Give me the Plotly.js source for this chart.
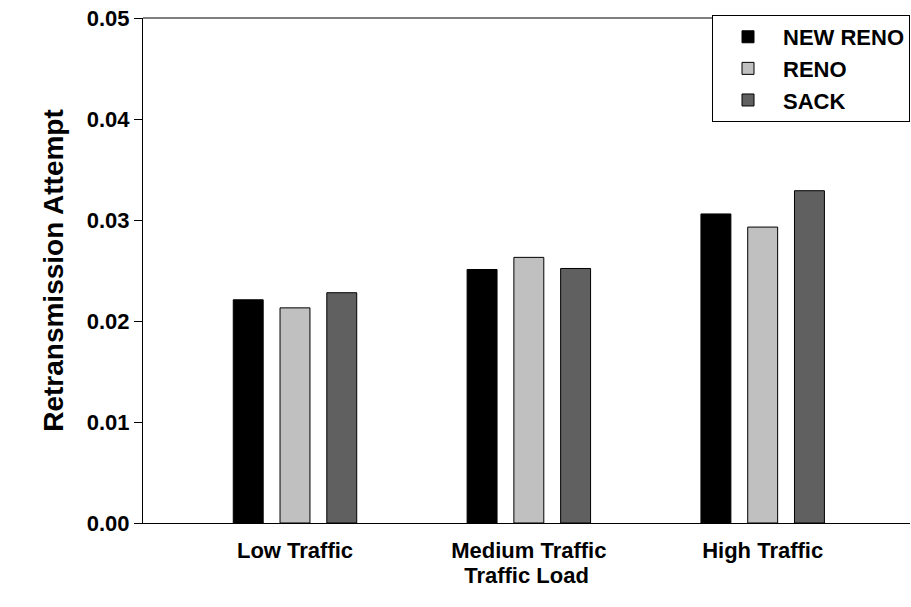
<html><head><script src="https://cdn.plot.ly/plotly-3.0.1.min.js"></script></head><body style="margin:0">
<div id="c" style="width:911px;height:607px"></div>
<script>
const categories=["Low Traffic","Medium Traffic","High Traffic"];
const newReno=[0.0221,0.0251,0.0306];
const reno=[0.0213,0.0263,0.0293];
const sack=[0.0228,0.0252,0.0329];
const idx=[0,1,2];
const f={family:"Liberation Sans, Arial",size:22,color:"black",weight:"bold"};
const mk=(n,y,c)=>({type:"bar",name:"<b>"+n+"</b>",x:idx,y:y,marker:{color:c,line:{color:"black",width:1}}});
Plotly.newPlot("c",[mk("NEW RENO",newReno,"#000000"),mk("RENO",reno,"#c0c0c0"),mk("SACK",sack,"#606060")],{
width:911,height:607,margin:{l:143,r:1,t:18,b:84},barmode:"group",bargap:0.4,bargroupgap:0.36,
paper_bgcolor:"white",plot_bgcolor:"white",font:f,
xaxis:{range:[-0.65,2.63],tickvals:idx,ticktext:categories.map(s=>"<b>"+s+"</b>"),ticklabelstandoff:8,showline:true,linecolor:"black",mirror:false,ticks:"",showgrid:false,zeroline:false,title:{text:"<b>Traffic Load</b>",font:f,standoff:2}},
yaxis:{range:[0,0.05],dtick:0.01,tickformat:".2f",showline:true,linecolor:"black",ticks:"outside",ticklen:8,tickcolor:"black",showgrid:false,zeroline:false,title:{text:"<b>Retransmission Attempt</b>",font:{...f,size:28},standoff:14}},
shapes:[{type:"line",xref:"paper",yref:"paper",x0:0,x1:1,y0:1,y1:1,line:{color:"black",width:1}}],
legend:{x:1,xanchor:"right",y:1.006,yanchor:"top",bordercolor:"black",borderwidth:1,bgcolor:"white",font:f,tracegroupgap:14,itemwidth:60}
},{displayModeBar:false});
</script></body></html>
